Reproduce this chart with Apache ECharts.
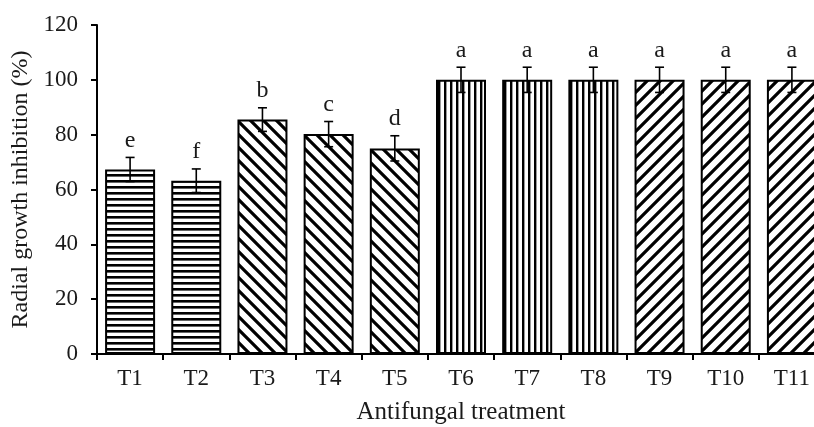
<!DOCTYPE html>
<html>
<head>
<meta charset="utf-8">
<script src="https://cdn.jsdelivr.net/npm/echarts@6/dist/echarts.min.js"></script>
<style>
  html, body { margin: 0; padding: 0; background: #fff; }
  #container { width: 814px; height: 427px; }
</style>
</head>
<body>
<div id="container"></div>
<script>
var categories = ['T1', 'T2', 'T3', 'T4', 'T5', 'T6', 'T7', 'T8', 'T9', 'T10', 'T11'];
var values = [67.3, 63.2, 85.5, 80.2, 75.0, 100, 100, 100, 100, 100, 100];
var errors = [4.4, 4.3, 4.3, 4.6, 4.6, 4.6, 4.6, 4.6, 4.6, 4.6, 4.6];
var letters = ['e', 'f', 'b', 'c', 'd', 'a', 'a', 'a', 'a', 'a', 'a'];
// fill pattern of each bar: h = horizontal, b = backslash, v = vertical, s = slash
var patterns = ['h', 'h', 'b', 'b', 'b', 'v', 'v', 'v', 's', 's', 's'];

var FONT = '"Liberation Serif", "Times New Roman", serif';
var INK = '#1a1a1a';

// small canvas tiles used as fill patterns
function makeTile(kind){
    var c = document.createElement('canvas');
    var ctx;
    if (kind === 'h') {
        c.width = 6; c.height = 6;
        ctx = c.getContext('2d');
        ctx.fillStyle = '#fff'; ctx.fillRect(0, 0, 6, 6);
        ctx.fillStyle = '#000'; ctx.fillRect(0, 0, 6, 2.6);
    } else if (kind === 'v') {
        c.width = 6; c.height = 6;
        ctx = c.getContext('2d');
        ctx.fillStyle = '#fff'; ctx.fillRect(0, 0, 6, 6);
        ctx.fillStyle = '#000'; ctx.fillRect(0, 0, 2.4, 6);
    } else {
        var n = 13;
        c.width = n; c.height = n;
        ctx = c.getContext('2d');
        ctx.fillStyle = '#fff'; ctx.fillRect(0, 0, n, n);
        ctx.strokeStyle = '#000'; ctx.lineWidth = 3.2;
        ctx.beginPath();
        if (kind === 's') {
            ctx.moveTo(-2, n + 2); ctx.lineTo(n + 2, -2);
            ctx.moveTo(-2, 2); ctx.lineTo(2, -2);
            ctx.moveTo(n - 2, n + 2); ctx.lineTo(n + 2, n - 2);
        } else {
            ctx.moveTo(-2, -2); ctx.lineTo(n + 2, n + 2);
            ctx.moveTo(n - 2, -2); ctx.lineTo(n + 2, 2);
            ctx.moveTo(-2, n - 2); ctx.lineTo(2, n + 2);
        }
        ctx.stroke();
    }
    return c;
}

var tiles = {};
['h', 'v', 'b', 's'].forEach(function(k){ tiles[k] = makeTile(k); });

var barData = values.map(function(v, i){
    return {
        value: v,
        itemStyle: {
            color: { image: tiles[patterns[i]], repeat: 'repeat' },
            borderColor: '#000',
            borderWidth: 2
        }
    };
});

var errData = values.map(function(v, i){
    return [i, v, errors[i], letters[i]];
});

var myChart = echarts.init(document.getElementById('container'));
var option = {
    animation: false,
    backgroundColor: '#fff',
    grid: { left: 97, width: 728, top: 25, bottom: 73, containLabel: false, outerBoundsMode: 'none' },
    xAxis: {
        type: 'category',
        data: categories,
        name: 'Antifungal treatment',
        nameLocation: 'middle',
        nameGap: 46,
        nameTextStyle: { fontFamily: FONT, fontSize: 25, color: INK },
        axisLine: { lineStyle: { color: '#000', width: 2 } },
        axisTick: { show: true, inside: false, length: 6, lineStyle: { color: '#000', width: 2 } },
        axisLabel: { fontFamily: FONT, fontSize: 23, color: INK, margin: 13 },
        splitLine: { show: false }
    },
    yAxis: {
        type: 'value',
        min: 0,
        max: 120,
        interval: 20,
        name: 'Radial growth inhibition (%)',
        nameLocation: 'middle',
        nameGap: 62,
        nameTextStyle: { fontFamily: FONT, fontSize: 24, color: INK },
        axisLine: { show: true, lineStyle: { color: '#000', width: 2 } },
        axisTick: { show: true, inside: false, length: 6, lineStyle: { color: '#000', width: 2 } },
        axisLabel: { fontFamily: FONT, fontSize: 23, color: INK, margin: 19 },
        splitLine: { show: false }
    },
    series: [
        {
            name: 'inhibition',
            type: 'bar',
            barWidth: 50,
            data: barData
        },
        {
            name: 'error',
            type: 'custom',
            data: errData,
            z: 10,
            renderItem: function(params, api){
                var x = api.value(0);
                var v = api.value(1);
                var e = api.value(2);
                var top = api.coord([x, v + e]);
                var bot = api.coord([x, v - e]);
                var half = 4.5;
                var style = { stroke: '#000', lineWidth: 1.6 };
                return {
                    type: 'group',
                    children: [
                        { type: 'line', shape: { x1: top[0], y1: top[1], x2: bot[0], y2: bot[1] }, style: style },
                        { type: 'line', shape: { x1: top[0] - half, y1: top[1], x2: top[0] + half, y2: top[1] }, style: style },
                        { type: 'line', shape: { x1: bot[0] - half, y1: bot[1], x2: bot[0] + half, y2: bot[1] }, style: style },
                        {
                            type: 'text',
                            x: top[0],
                            y: top[1] - 17,
                            style: {
                                text: api.value(3),
                                fontFamily: FONT,
                                fontSize: 24,
                                fill: INK,
                                align: 'center',
                                verticalAlign: 'middle'
                            }
                        }
                    ]
                };
            }
        }
    ]
};
if (option && typeof option === 'object') {
    myChart.setOption(option);
}
</script>
</body>
</html>
